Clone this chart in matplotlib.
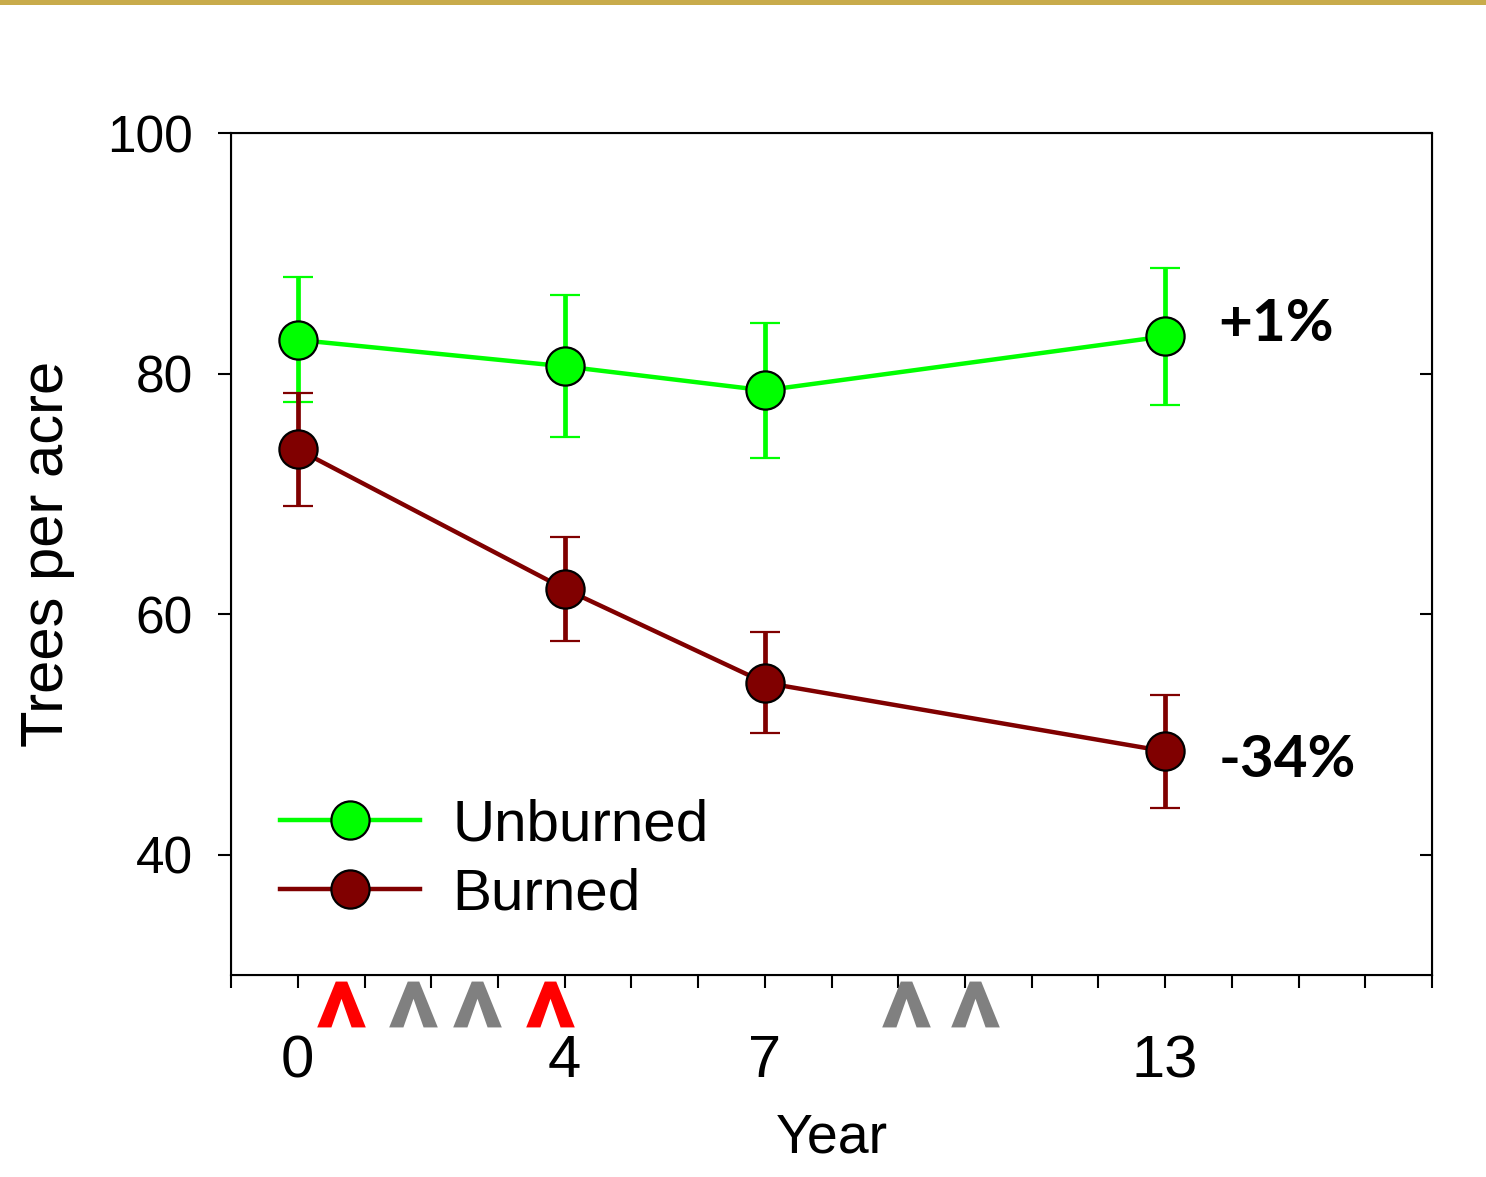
import numpy as np
import matplotlib.pyplot as plt
from matplotlib.patches import Rectangle
from matplotlib.path import Path
import matplotlib.transforms as mtransforms

plt.rcParams['font.family'] = ['Liberation Sans', 'DejaVu Sans']

# survey years and tree density (mean +/- error)
years = [0, 4, 7, 13]
unburned = [82.8, 80.6, 78.6, 83.1]
unburned_err = [5.2, 5.9, 5.6, 5.7]
burned = [73.7, 62.1, 54.3, 48.6]
burned_err = [4.7, 4.3, 4.2, 4.7]
series_names = ['Unburned', 'Burned']

# change from year 0 to year 13
change_labels = ['+1%', '-34%']
change_y = [84.1, 47.8]

# fire events along the time axis (red = burn, grey = other)
event_x = [0.65, 1.72, 2.68, 3.78, 9.12, 10.15]
event_colors = ['#ff0000', '#808080', '#808080', '#ff0000', '#808080', '#808080']

green = '#00ff00'
maroon = '#800000'

# chevron shape used for the fire markers
caret = Path([(-0.125, 0.5), (0.125, 0.5), (0.53, -0.5), (0.22, -0.5),
              (0.0, 0.125), (-0.22, -0.5), (-0.53, -0.5), (-0.125, 0.5)],
             [Path.MOVETO] + [Path.LINETO] * 6 + [Path.CLOSEPOLY])

fig = plt.figure(figsize=(14.86, 11.77), dpi=100)
ax = fig.add_axes([0.1555, 0.1716, 0.8082, 0.7154])

# gold rule across the top
fig.add_artist(Rectangle((0, 1 - 5 / 1177), 1, 5 / 1177, transform=fig.transFigure,
                         color='#c8ab4b', lw=0))

handles = []
for vals, errs, col in [(unburned, unburned_err, green), (burned, burned_err, maroon)]:
    c = ax.errorbar(years, vals, yerr=errs, color=col, ecolor=col, lw=3.2,
                    elinewidth=3.4, capsize=10.5, capthick=3.4,
                    marker='o', markersize=27.5, markerfacecolor=col,
                    markeredgecolor='black', markeredgewidth=1.6, zorder=3)
    handles.append(c[0])

for txt, yv in zip(change_labels, change_y):
    ax.text(13.8, yv, txt, fontsize=42, fontweight='bold', family=['Lato', 'DejaVu Sans'],
            ha='left', va='center')

ax.set_xlim(-1, 17)
ax.set_ylim(30, 100)
ax.set_yticks([40, 60, 80, 100])
ax.set_xticks([0, 4, 7, 13])
ax.set_xticks(np.arange(-1, 18), minor=True)

for s in ax.spines.values():
    s.set_linewidth(1.5)
ax.tick_params(axis='y', direction='out', length=9.5, width=1.5, labelsize=37, pad=18)
ax.tick_params(axis='x', which='both', direction='out', length=9.5, width=1.5,
               labelsize=43, pad=33)

# inward ticks on the right edge
ax2 = ax.twinx()
ax2.set_ylim(ax.get_ylim())
ax2.set_yticks([40, 60, 80, 100])
ax2.tick_params(axis='y', direction='in', length=9, width=1.5, labelright=False)

trans = mtransforms.blended_transform_factory(ax.transData, ax.transAxes)
for xv, col in zip(event_x, event_colors):
    ax.plot([xv], [-0.035], transform=trans, marker=caret, markersize=35,
            color=col, markeredgewidth=0, linestyle='none', clip_on=False)

ax.set_xlabel('Year', fontsize=40)
ax.xaxis.set_label_coords(0.5, -0.163)
ax.set_ylabel('Trees per acre', fontsize=43)
ax.yaxis.set_label_coords(-0.130, 0.5)

ax.legend(handles, series_names, loc='center left', bbox_to_anchor=(0.041, 0.1365),
          frameon=False, fontsize=42, handlelength=2.4, handletextpad=0.55,
          labelspacing=0.25, borderpad=0, borderaxespad=0)

fig.savefig('out.png', dpi=100)
